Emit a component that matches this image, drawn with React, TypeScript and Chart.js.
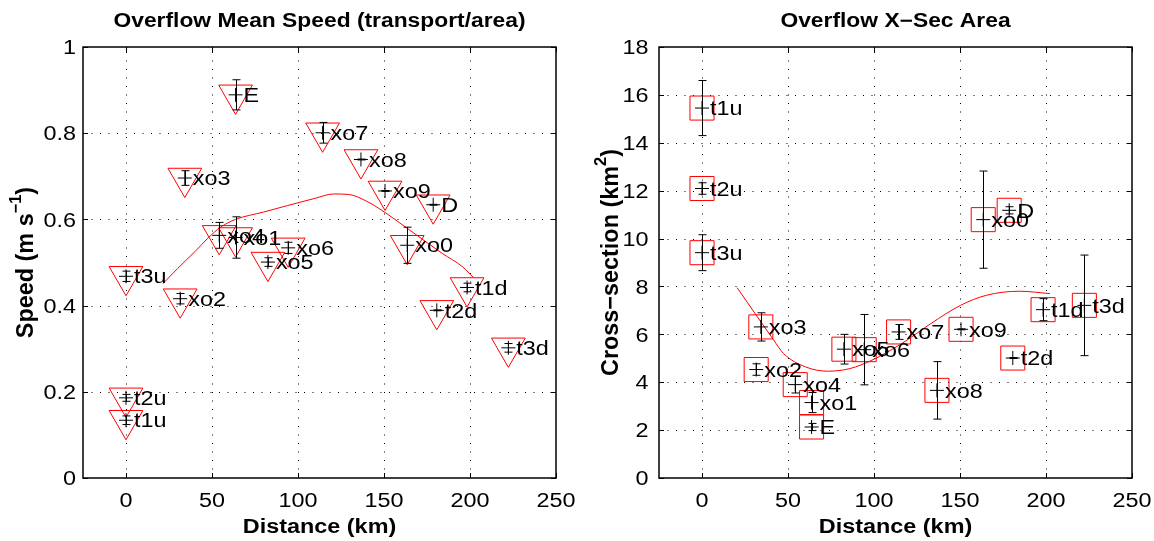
import React, { useEffect, useRef } from 'react';
import { Chart, registerables } from 'chart.js';

Chart.register(...registerables);

// Stations along the overflow path
const stations = ['t1u', 't2u', 't3u', 'xo2', 'xo3', 'xo4', 'E', 'xo1', 'xo5', 'xo6', 'xo7', 'xo8', 'xo9', 'xo0', 'D', 't2d', 't1d', 't3d'];
const distanceKm = [0, 0, 0, 31.5, 34.2, 54.2, 63.7, 63.7, 82.5, 94.3, 114.3, 136.6, 150.6, 163.5, 178.6, 180.7, 198.3, 222.3];

// Mean speed (m/s) and its uncertainty
const speedMean = [0.134, 0.186, 0.468, 0.416, 0.696, 0.563, 0.889, 0.558, 0.501, 0.534, 0.801, 0.739, 0.666, 0.540, 0.634, 0.389, 0.442, 0.302];
const speedErr = [0.010, 0.008, 0.012, 0.012, 0.017, 0.030, 0.035, 0.048, 0.010, 0.013, 0.024, 0.001, 0.001, 0.042, 0.001, 0.001, 0.010, 0.010];

// Cross-sectional area (km^2) and its uncertainty
const areaMean = [15.45, 12.09, 9.41, 4.53, 6.31, 3.90, 2.13, 3.15, 5.38, 5.36, 6.10, 3.66, 6.21, 10.79, 11.18, 5.01, 7.03, 7.21];
const areaErr = [1.15, 0.24, 0.75, 0.24, 0.59, 0.35, 0.15, 0.42, 0.62, 1.47, 0.31, 1.20, 0.02, 2.03, 0.15, 0.02, 0.46, 2.10];

// Smoothed trends
const speedFitKm = [21.5, 30, 40, 48, 55, 63.7, 80, 93.8, 110, 120.6, 129.2, 140, 151.7, 165, 183.9, 195.7, 202];
const speedFit = [0.451, 0.486, 0.525, 0.558, 0.582, 0.600, 0.617, 0.632, 0.649, 0.659, 0.658, 0.642, 0.613, 0.575, 0.521, 0.490, 0.465];
const areaFitKm = [20.4, 41.5, 47.4, 60.2, 73.1, 86, 98.8, 116, 133.1, 150.3, 165.3, 184.6, 202.3];
const areaFit = [7.95, 5.78, 5.20, 4.64, 4.46, 4.57, 4.92, 5.61, 6.45, 7.21, 7.63, 7.80, 7.70];

// Axis ticks
const distanceTicks = [0, 50, 100, 150, 200, 250];
const distanceTickLabels = ['0', '50', '100', '150', '200', '250'];
const speedTicks = [0, 0.2, 0.4, 0.6, 0.8, 1];
const speedTickLabels = ['0', '0.2', '0.4', '0.6', '0.8', '1'];
const areaTicks = [0, 2, 4, 6, 8, 10, 12, 14, 16, 18];
const areaTickLabels = ['0', '2', '4', '6', '8', '10', '12', '14', '16', '18'];

const FONT = '"Liberation Sans", Arial, Helvetica, sans-serif';
const TEXT_STRETCH = 1.17;

type LabelPart = { text: string; sup?: boolean };

interface PanelSpec {
  title: string;
  xTitle: string;
  yTitle: LabelPart[];
  yTitleGap: number;
  yTickGap: number;
  xTicks: number[];
  xTickLabels: string[];
  yTicks: number[];
  yTickLabels: string[];
  values: number[];
  errors: number[];
}

function drawStretched(ctx: CanvasRenderingContext2D, text: string, x: number, y: number, align: CanvasTextAlign, font: string) {
  ctx.save();
  ctx.font = font;
  ctx.textAlign = align;
  ctx.textBaseline = 'alphabetic';
  ctx.fillStyle = '#000';
  ctx.translate(x, y);
  ctx.scale(TEXT_STRETCH, 1);
  ctx.fillText(text, 0, 0);
  ctx.restore();
}

function makeAxesPlugin(spec: PanelSpec) {
  return {
    id: 'matlabAxes',
    beforeDatasetsDraw(chart: any) {
      const { ctx, chartArea: a, scales } = chart;
      const xs = scales.x;
      const ys = scales.y;
      ctx.save();
      ctx.strokeStyle = '#000';
      ctx.lineWidth = 1;
      ctx.setLineDash([1, 7.5]);
      for (const t of spec.xTicks) {
        const px = Math.round(xs.getPixelForValue(t)) + 0.5;
        if (px <= a.left + 2 || px >= a.right - 2) continue;
        ctx.beginPath();
        ctx.moveTo(px, a.bottom);
        ctx.lineTo(px, a.top);
        ctx.stroke();
      }
      for (const t of spec.yTicks) {
        const py = Math.round(ys.getPixelForValue(t)) + 0.5;
        if (py <= a.top + 2 || py >= a.bottom - 2) continue;
        ctx.beginPath();
        ctx.moveTo(a.left, py);
        ctx.lineTo(a.right, py);
        ctx.stroke();
      }
      ctx.restore();
    },
    afterDatasetsDraw(chart: any) {
      const { ctx, chartArea: a, scales } = chart;
      const xs = scales.x;
      const ys = scales.y;
      ctx.save();

      // error bars
      ctx.strokeStyle = '#000';
      ctx.lineWidth = 1;
      distanceKm.forEach((d, i) => {
        const px = Math.round(xs.getPixelForValue(d)) + 0.5;
        const top = ys.getPixelForValue(spec.values[i] + spec.errors[i]);
        const bot = ys.getPixelForValue(spec.values[i] - spec.errors[i]);
        ctx.beginPath();
        ctx.moveTo(px, top);
        ctx.lineTo(px, bot);
        ctx.moveTo(px - 4, top);
        ctx.lineTo(px + 4, top);
        ctx.moveTo(px - 4, bot);
        ctx.lineTo(px + 4, bot);
        ctx.stroke();
      });

      // station names
      distanceKm.forEach((d, i) => {
        const px = xs.getPixelForValue(d);
        const py = ys.getPixelForValue(spec.values[i]);
        drawStretched(ctx, stations[i], px + 8, py + 7.2, 'left', `20px ${FONT}`);
      });

      // axes box and inward ticks
      ctx.lineWidth = 1.5;
      ctx.strokeRect(a.left, a.top, a.right - a.left, a.bottom - a.top);
      ctx.lineWidth = 1;
      for (const t of spec.xTicks) {
        const px = Math.round(xs.getPixelForValue(t)) + 0.5;
        ctx.beginPath();
        ctx.moveTo(px, a.bottom);
        ctx.lineTo(px, a.bottom - 5);
        ctx.moveTo(px, a.top);
        ctx.lineTo(px, a.top + 5);
        ctx.stroke();
      }
      for (const t of spec.yTicks) {
        const py = Math.round(ys.getPixelForValue(t)) + 0.5;
        ctx.beginPath();
        ctx.moveTo(a.left, py);
        ctx.lineTo(a.left + 5, py);
        ctx.moveTo(a.right, py);
        ctx.lineTo(a.right - 5, py);
        ctx.stroke();
      }

      // tick labels
      spec.xTicks.forEach((t, i) => {
        drawStretched(ctx, spec.xTickLabels[i], xs.getPixelForValue(t), a.bottom + 29, 'center', `20px ${FONT}`);
      });
      spec.yTicks.forEach((t, i) => {
        drawStretched(ctx, spec.yTickLabels[i], a.left - spec.yTickGap, ys.getPixelForValue(t) + 7.2, 'right', `20px ${FONT}`);
      });

      // titles
      const cx = (a.left + a.right) / 2;
      drawStretched(ctx, spec.title, cx, 26.7, 'center', `bold 19.5px ${FONT}`);
      drawStretched(ctx, spec.xTitle, cx, a.bottom + 55, 'center', `bold 20px ${FONT}`);

      // rotated y title with superscript
      const baseFont = `bold 20px ${FONT}`;
      const supFont = `bold 14px ${FONT}`;
      let total = 0;
      const widths = spec.yTitle.map((p) => {
        ctx.font = p.sup ? supFont : baseFont;
        const w = ctx.measureText(p.text).width;
        total += w;
        return w;
      });
      ctx.save();
      ctx.translate(a.left - spec.yTitleGap, (a.top + a.bottom) / 2);
      ctx.scale(TEXT_STRETCH, TEXT_STRETCH);
      ctx.rotate(-Math.PI / 2);
      ctx.fillStyle = '#000';
      ctx.textAlign = 'left';
      ctx.textBaseline = 'alphabetic';
      let x = -total / 2;
      spec.yTitle.forEach((p, i) => {
        ctx.font = p.sup ? supFont : baseFont;
        ctx.fillText(p.text, x, p.sup ? -10 : 0);
        x += widths[i];
      });
      ctx.restore();

      ctx.restore();
    },
  };
}

interface PanelSetup {
  spec: PanelSpec;
  yMin: number;
  yMax: number;
  marker: 'triangle' | 'rect';
  markerRadius: number;
  markerRotation: number;
  fitX: number[];
  fitY: number[];
  padding: { left: number; right: number; top: number; bottom: number };
}

function buildChart(canvas: HTMLCanvasElement, setup: PanelSetup) {
  const pts = distanceKm.map((d, i) => ({ x: d, y: setup.spec.values[i] }));
  const fit = setup.fitX.map((d, i) => ({ x: d, y: setup.fitY[i] }));
  return new Chart(canvas, {
    type: 'scatter',
    data: {
      datasets: [
        {
          type: 'scatter',
          data: pts,
          pointStyle: 'cross',
          pointRadius: 7,
          pointBorderColor: '#000',
          pointBackgroundColor: 'rgba(0,0,0,0)',
          pointBorderWidth: 1,
          clip: false,
          order: 0,
        } as any,
        {
          type: 'scatter',
          data: pts,
          pointStyle: setup.marker,
          pointRadius: setup.markerRadius,
          pointRotation: setup.markerRotation,
          pointBorderColor: '#ff0000',
          pointBackgroundColor: 'rgba(0,0,0,0)',
          pointBorderWidth: 1,
          clip: false,
          order: 1,
        } as any,
        {
          type: 'line',
          data: fit,
          borderColor: '#ff0000',
          borderWidth: 1,
          pointRadius: 0,
          cubicInterpolationMode: 'monotone',
          fill: false,
          clip: false,
          order: 2,
        } as any,
      ],
    },
    options: {
      animation: false,
      responsive: false,
      events: [],
      layout: { padding: setup.padding },
      scales: {
        x: { type: 'linear', min: -25, max: 250, display: false },
        y: { type: 'linear', min: setup.yMin, max: setup.yMax, display: false },
      },
      plugins: { legend: { display: false }, tooltip: { enabled: false }, title: { display: false } },
    },
    plugins: [makeAxesPlugin(setup.spec)],
  });
}

export default function App() {
  const speedRef = useRef<HTMLCanvasElement>(null);
  const areaRef = useRef<HTMLCanvasElement>(null);

  useEffect(() => {
    const speedChart = buildChart(speedRef.current!, {
      spec: {
        title: 'Overflow Mean Speed (transport/area)',
        xTitle: 'Distance (km)',
        yTitle: [{ text: 'Speed (m s' }, { text: '\u22121', sup: true }, { text: ')' }],
        yTitleGap: 50,
        yTickGap: 7,
        xTicks: distanceTicks,
        xTickLabels: distanceTickLabels,
        yTicks: speedTicks,
        yTickLabels: speedTickLabels,
        values: speedMean,
        errors: speedErr,
      },
      yMin: 0,
      yMax: 1,
      marker: 'triangle',
      markerRadius: 19.5,
      markerRotation: 180,
      fitX: speedFitKm,
      fitY: speedFit,
      padding: { left: 83, right: 21, top: 47, bottom: 63 },
    });
    const areaChart = buildChart(areaRef.current!, {
      spec: {
        title: 'Overflow X\u2212Sec Area',
        xTitle: 'Distance (km)',
        yTitle: [{ text: 'Cross\u2212section (km' }, { text: '2', sup: true }, { text: ')' }],
        yTitleGap: 41,
        yTickGap: 10.5,
        xTicks: distanceTicks,
        xTickLabels: distanceTickLabels,
        yTicks: areaTicks,
        yTickLabels: areaTickLabels,
        values: areaMean,
        errors: areaErr,
      },
      yMin: 0,
      yMax: 18,
      marker: 'rect',
      markerRadius: 17,
      markerRotation: 0,
      fitX: areaFitKm,
      fitY: areaFit,
      padding: { left: 82, right: 22, top: 47, bottom: 63 },
    });
    return () => {
      speedChart.destroy();
      areaChart.destroy();
    };
  }, []);

  return (
    <div style={{ position: 'absolute', left: 0, top: 0, width: 1154, height: 541, background: '#fff' }}>
      <canvas ref={speedRef} width={577} height={541} style={{ position: 'absolute', left: 0, top: 0, width: 577, height: 541 }} />
      <canvas ref={areaRef} width={577} height={541} style={{ position: 'absolute', left: 577, top: 0, width: 577, height: 541 }} />
    </div>
  );
}
